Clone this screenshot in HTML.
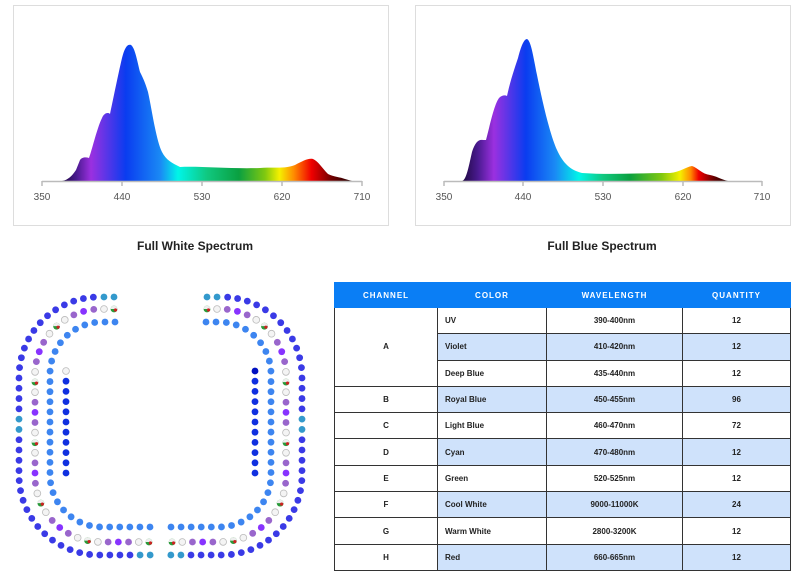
<!DOCTYPE html>
<html><head><meta charset="utf-8">
<style>
body{margin:0;background:#fff;width:800px;height:582px;overflow:hidden;position:relative;font-family:"Liberation Sans",sans-serif}
.box{position:absolute;border:1px solid #ddd;background:#fff}
.title{position:absolute;font-weight:bold;font-size:12px;color:#222;text-align:center;width:300px}
table{position:absolute;left:334px;top:282px;border-collapse:collapse;font-size:8px;font-weight:bold;color:#222}
td,th{border:1px solid #333;text-align:center;padding:0;height:25.3px}
th{background:#0a7ef5;color:#fff;letter-spacing:1px;font-size:8px;border-color:#0a7ef5;height:24px}
td.l{text-align:left;padding-left:7px}
tr.b td.c{background:#cfe2fb}
</style></head><body>
<div class="box" style="left:13px;top:5px;width:374px;height:219px"></div>
<div class="box" style="left:415px;top:5px;width:374px;height:219px"></div>
<svg width="800" height="240" style="position:absolute;left:0;top:0">
<defs>
<linearGradient id="g1" gradientUnits="userSpaceOnUse" x1="62" y1="0" x2="352" y2="0">
<stop offset="0" stop-color="#1e0840"/><stop offset="0.05" stop-color="#4a1a90"/><stop offset="0.1" stop-color="#9b30e0"/><stop offset="0.22" stop-color="#0a3cf0"/><stop offset="0.34" stop-color="#1a8af5"/><stop offset="0.40" stop-color="#00f5e8"/><stop offset="0.5" stop-color="#10c880"/><stop offset="0.61" stop-color="#0aa040"/><stop offset="0.7" stop-color="#80c810"/><stop offset="0.75" stop-color="#f5f000"/><stop offset="0.8" stop-color="#ff8a00"/><stop offset="0.86" stop-color="#f00000"/><stop offset="0.93" stop-color="#700000"/><stop offset="1" stop-color="#200000"/>
</linearGradient>
<linearGradient id="g2" gradientUnits="userSpaceOnUse" x1="462" y1="0" x2="728" y2="0">
<stop offset="0" stop-color="#1e0840"/><stop offset="0.06" stop-color="#4a1a90"/><stop offset="0.12" stop-color="#9b30e0"/><stop offset="0.24" stop-color="#0a3cf0"/><stop offset="0.35" stop-color="#1a8af5"/><stop offset="0.44" stop-color="#00f5e8"/><stop offset="0.53" stop-color="#10c880"/><stop offset="0.63" stop-color="#0aa040"/><stop offset="0.75" stop-color="#80c810"/><stop offset="0.82" stop-color="#f5f000"/><stop offset="0.86" stop-color="#ff8a00"/><stop offset="0.89" stop-color="#f00000"/><stop offset="0.95" stop-color="#600000"/><stop offset="1" stop-color="#200000"/>
</linearGradient>
</defs>
<path fill="url(#g1)" d="M62,181 C68,180 72,176 76,170 L80,160 C82,157 86,157 89,158 C92,150 97,128 102,118 C104,113 108,112 110,114 C113,100 118,75 122,58 C125,46 128,44 131,45 C135,48 137,60 140,72 C143,78 145,82 148,92 C152,110 156,140 162,152 C166,160 172,163 180,167 C200,166 230,169 260,168 C275,167 285,169 295,165 C303,161 308,158 313,159 C318,161 322,168 328,174 C334,177 340,177 345,179 L352,181 Z"/>
<path fill="url(#g2)" d="M462,181 C466,180 468,170 472,152 C475,142 479,139 483,140 L486,140 C490,125 494,105 499,98 C502,95 505,95 507,96 C510,82 514,70 518,58 C521,46 524,39 527,39 C531,41 533,55 537,75 C542,100 550,135 557,150 C563,163 570,170 582,173 C610,175 640,173 670,173 C680,172 686,167 692,166 C698,168 702,174 710,175 C716,176 720,179 728,181 Z"/>
<g stroke="#bbb" stroke-width="1.5">
<line x1="42" y1="181.5" x2="362" y2="181.5"/><line x1="444" y1="181.5" x2="762" y2="181.5"/>
<line x1="42" y1="181" x2="42" y2="186"/><line x1="122" y1="181" x2="122" y2="186"/><line x1="202" y1="181" x2="202" y2="186"/><line x1="282" y1="181" x2="282" y2="186"/><line x1="362" y1="181" x2="362" y2="186"/>
<line x1="444" y1="181" x2="444" y2="186"/><line x1="523" y1="181" x2="523" y2="186"/><line x1="603" y1="181" x2="603" y2="186"/><line x1="683" y1="181" x2="683" y2="186"/><line x1="762" y1="181" x2="762" y2="186"/>
</g>
<g font-size="10" fill="#555" text-anchor="middle" font-family="Liberation Sans, sans-serif">
<text x="42" y="200">350</text><text x="122" y="200">440</text><text x="202" y="200">530</text><text x="282" y="200">620</text><text x="362" y="200">710</text>
<text x="444" y="200">350</text><text x="523" y="200">440</text><text x="603" y="200">530</text><text x="683" y="200">620</text><text x="762" y="200">710</text>
</g>
</svg>
<div class="title" style="left:45px;top:239px">Full White Spectrum</div>
<div class="title" style="left:452px;top:239px">Full Blue Spectrum</div>
<svg id="leds" width="330" height="582" style="position:absolute;left:0;top:0"></svg>
<table>
<tr><th style="width:102px">CHANNEL</th><th style="width:108px">COLOR</th><th style="width:135px">WAVELENGTH</th><th style="width:107px">QUANTITY</th></tr>
<tr><td rowspan="3">A</td><td class="l c">UV</td><td class="c">390-400nm</td><td class="c">12</td></tr>
<tr class="b"><td class="l c">Violet</td><td class="c">410-420nm</td><td class="c">12</td></tr>
<tr><td class="l c">Deep Blue</td><td class="c">435-440nm</td><td class="c">12</td></tr>
<tr class="b"><td>B</td><td class="l c">Royal Blue</td><td class="c">450-455nm</td><td class="c">96</td></tr>
<tr><td>C</td><td class="l c">Light Blue</td><td class="c">460-470nm</td><td class="c">72</td></tr>
<tr class="b"><td>D</td><td class="l c">Cyan</td><td class="c">470-480nm</td><td class="c">12</td></tr>
<tr><td>E</td><td class="l c">Green</td><td class="c">520-525nm</td><td class="c">12</td></tr>
<tr class="b"><td>F</td><td class="l c">Cool White</td><td class="c">9000-11000K</td><td class="c">24</td></tr>
<tr><td>G</td><td class="l c">Warm White</td><td class="c">2800-3200K</td><td class="c">12</td></tr>
<tr class="b"><td>H</td><td class="l c">Red</td><td class="c">660-665nm</td><td class="c">12</td></tr>
</table>
<script>
(function(){
var svg=document.getElementById('leds'),ns='http://www.w3.org/2000/svg';
function samp(L,T,B,r,te,be,step){
 var pts=[],segs=[],fine=[];
 segs.push({t:'l',a:[te,T],b:[L+r,T]});
 segs.push({t:'a',c:[L+r,T+r],a0:-Math.PI/2,a1:-Math.PI});
 segs.push({t:'l',a:[L,T+r],b:[L,B-r]});
 segs.push({t:'a',c:[L+r,B-r],a0:Math.PI,a1:Math.PI/2});
 segs.push({t:'l',a:[L+r,B],b:[be,B]});
 segs.forEach(function(s){for(var i=0;i<=200;i++){var f=i/200;if(s.t=='l')fine.push([s.a[0]+(s.b[0]-s.a[0])*f,s.a[1]+(s.b[1]-s.a[1])*f]);else{var a=s.a0+(s.a1-s.a0)*f;fine.push([s.c[0]+r*Math.cos(a),s.c[1]+r*Math.sin(a)]);}}});
 var acc=0;pts.push(fine[0]);
 for(var i=1;i<fine.length;i++){acc+=Math.hypot(fine[i][0]-fine[i-1][0],fine[i][1]-fine[i-1][1]);if(acc>=step){pts.push(fine[i]);acc=0;}}
 return pts;
}
function dot(x,y,c){
 var e=document.createElementNS(ns,'circle');e.setAttribute('cx',x);e.setAttribute('cy',y);e.setAttribute('r',3.4);
 if(c=='w'){e.setAttribute('fill','#f4f4f4');e.setAttribute('stroke','#bbb');e.setAttribute('stroke-width','0.8');}
 else if(c=='rg'){e.setAttribute('fill','#2a9a3a');}
 else e.setAttribute('fill',c);
 svg.appendChild(e);
 if(c=='rg'){var e2=document.createElementNS(ns,'path');e2.setAttribute('d','M'+(x-3.4)+','+y+' A3.4,3.4 0 0 1 '+(x+3.4)+','+y+' Z');e2.setAttribute('fill','#eee');svg.appendChild(e2);
 var e3=document.createElementNS(ns,'circle');e3.setAttribute('cx',x+1.5);e3.setAttribute('cy',y+1);e3.setAttribute('r',1.6);e3.setAttribute('fill','#c22');svg.appendChild(e3);}
}
var rings=[
 {L:19,T:297,B:555,r:80,te:114,be:152,col:function(i,n){if(i<2||i>n-3||i==Math.floor(n/2)-3||i==Math.floor(n/2)-2)return '#3399cc';return '#3a3ae6';}},
 {L:35,T:309,B:542,r:66,te:114,be:152,col:function(i){var p=['rg','w','#9966cc','#8833ff','#9966cc','w','rg','w','#9966cc','#8833ff','#9966cc','w'];return p[i%p.length];}},
 {L:50,T:322,B:527,r:52,te:115,be:150,col:function(){return '#3d85f0';}}
];
rings.forEach(function(R){
 var p=samp(R.L,R.T,R.B,R.r,R.te,R.be,10);
 p.forEach(function(q,i){var c=R.col(i,p.length);dot(q[0],q[1],c);dot(321-q[0],q[1],c);});
});
for(var y=371,i=0;y<=483;y+=10.2,i++){dot(66,y,i==0?'w':'#1030e0');dot(255,y,i==0?'#0010c0':'#1030e0');}
})();
</script>
</body></html>
